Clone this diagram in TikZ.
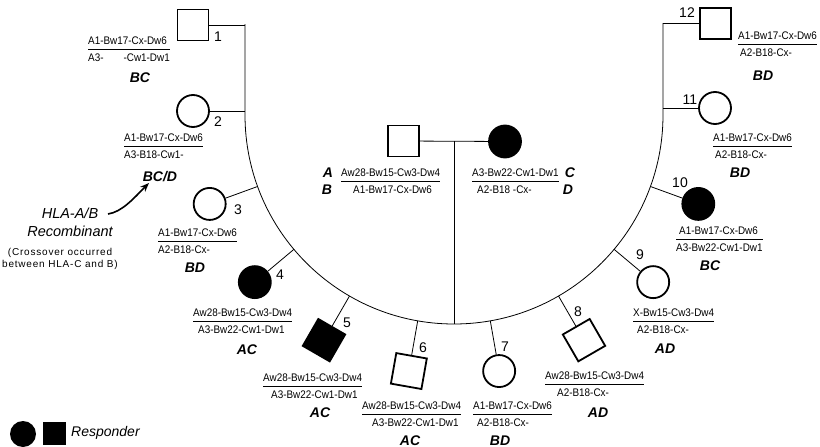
\documentclass[tikz,border=0pt]{standalone}
\usepackage{fontspec}
\setmainfont{Liberation Sans}
\newfontfamily\hapfont[FakeStretch=0.9]{Liberation Sans}
\usetikzlibrary{calc,arrows.meta}
\newcommand{\hap}[2]{{\hapfont\fontsize{11}{12}\selectfont\renewcommand{\arraystretch}{1.42}\setlength{\arrayrulewidth}{0.8pt}\begin{tabular}[t]{@{}l@{}}#1\\\hline #2\end{tabular}}}
\tikzset{
 conn/.style={line width=0.8pt},
 sym/.style={line width=1.8pt, inner sep=0pt, draw},
 male/.style={sym, rectangle, minimum size=31pt},
 female/.style={sym, circle, minimum size=32pt},
 aff/.style={fill=black},
 num/.style={font=\fontsize{14}{16}\selectfont, inner sep=0pt},
 code/.style={font=\fontsize{14}{16}\selectfont\bfseries\itshape, inner sep=0pt, anchor=base},
 hapnode/.style={inner sep=0pt, anchor=base west},
}
\begin{document}
\begin{tikzpicture}[x=1pt,y=1pt]
\useasboundingbox (0,0) rectangle (820,-447);
% sibship line
\coordinate (C) at (454,-115);
\coordinate (topL) at (245,-24);
\coordinate (topR) at (663,-23);
\draw[conn] (topL) -- (topL |- C) arc[start angle=180,end angle=360,radius=209] -- (topR);
% parents
\node[male] (fa) at (403.5,-141) {};
\node[female,aff] (mo) at (505,-141.5) {};
\draw[conn] (fa) -- (mo);
\coordinate (mid) at ($(fa)!0.5!(mo)$);
\coordinate (bot) at ($(C)+(270:209)$);
\draw[conn] (mid) -- (mid |- bot);
\node[hapnode] (fah) at (341,-176) {\hap{Aw28-Bw15-Cw3-Dw4}{\hspace*{12pt}A1-Bw17-Cx-Dw6}};
\node[hapnode] (moh) at (472,-176) {\hap{A3-Bw22-Cw1-Dw1}{\hspace*{5pt}A2-B18 -Cx-}};
\node[code] (fA) at (328,-177) {A};
\node[code] (fB) at (327,-194) {B};
\node[code] (mC) at (570,-177) {C};
\node[code] (mD) at (568,-194) {D};
% child 1
\node[male] (k1) at (193,-25) {};
\draw[conn] (k1) -- (k1 -| topL);
\node[num] (n1) at (218,-37) {1};
\node[hapnode] (h1) at (88,-44) {\hap{A1-Bw17-Cx-Dw6}{A3-\hspace{20pt}-Cw1-Dw1}};
\node[code] (c1) at (140,-82) {BC};
% child 2
\node[female] (k2) at (193,-111) {};
\draw[conn] (k2) -- (k2 -| topL);
\node[num] (n2) at (218,-122) {2};
\node[hapnode] (h2) at (124,-141) {\hap{A1-Bw17-Cx-Dw6}{A3-B18-Cw1-}};
\node[code] (c2) at (160,-181) {BC/D};
% child 3
\node[female] (k3) at ($(C)+(200:260)$) {};
\coordinate (a3) at ($(C)+(200:209)$);
\draw[conn] (a3) -- (k3);
\node[num] (n3) at (238,-210) {3};
\node[hapnode] (h3) at (158,-236) {\hap{A1-Bw17-Cx-Dw6}{A2-B18-Cx-}};
\node[code] (c3) at (195,-272) {BD};
% child 4
\node[female,aff] (k4) at ($(C)+(220:260)$) {};
\coordinate (a4) at ($(C)+(220:209)$);
\draw[conn] (a4) -- (k4);
\node[num] (n4) at (280,-275) {4};
\node[hapnode] (h4) at (193,-316) {\hap{Aw28-Bw15-Cw3-Dw4}{\hspace*{5pt}A3-Bw22-Cw1-Dw1}};
\node[code] (c4) at (247,-354) {AC};
% child 5
\node[male,aff,rotate=330] (k5) at ($(C)+(240:260)$) {};
\coordinate (a5) at ($(C)+(240:209)$);
\draw[conn] (a5) -- (k5);
\node[num] (n5) at (347,-323) {5};
\node[hapnode] (h5) at (263,-381) {\hap{Aw28-Bw15-Cw3-Dw4}{\hspace*{8pt}A3-Bw22-Cw1-Dw1}};
\node[code] (c5) at (320,-417) {AC};
% child 6
\node[male,rotate=350] (k6) at ($(C)+(260:260)$) {};
\coordinate (a6) at ($(C)+(260:209)$);
\draw[conn] (a6) -- (k6);
\node[num] (n6) at (423,-348) {6};
\node[hapnode] (h6) at (362,-409) {\hap{Aw28-Bw15-Cw3-Dw4}{\hspace*{10pt}A3-Bw22-Cw1-Dw1}};
\node[code] (c6) at (410,-445) {AC};
% child 7
\node[female] (k7) at ($(C)+(280:260)$) {};
\coordinate (a7) at ($(C)+(280:209)$);
\draw[conn] (a7) -- (k7);
\node[num] (n7) at (505,-347) {7};
\node[hapnode] (h7) at (473,-409) {\hap{A1-Bw17-Cx-Dw6}{\hspace*{4pt}A2-B18-Cx-}};
\node[code] (c7) at (500,-445) {BD};
% child 8
\node[male,rotate=30] (k8) at ($(C)+(300:260)$) {};
\coordinate (a8) at ($(C)+(300:209)$);
\draw[conn] (a8) -- (k8);
\node[num] (n8) at (578,-312) {8};
\node[hapnode] (h8) at (545,-379) {\hap{Aw28-Bw15-Cw3-Dw4}{\hspace*{12pt}A2-B18-Cx-}};
\node[code] (c8) at (598,-417) {AD};
% child 9
\node[female] (k9) at ($(C)+(320:260)$) {};
\coordinate (a9) at ($(C)+(320:209)$);
\draw[conn] (a9) -- (k9);
\node[num] (n9) at (640,-255) {9};
\node[hapnode] (h9) at (633,-316) {\hap{X-Bw15-Cw3-Dw4}{\hspace*{4pt}A2-B18-Cx-}};
\node[code] (c9) at (665,-353) {AD};
% child 10
\node[female,aff] (k10) at ($(C)+(340:260)$) {};
\coordinate (a10) at ($(C)+(340:209)$);
\draw[conn] (a10) -- (k10);
\node[num] (n10) at (680,-183) {10};
\node[hapnode] (h10) at (676,-234) {\hap{\hspace*{3pt}A1-Bw17-Cx-Dw6}{A3-Bw22-Cw1-Dw1}};
\node[code] (c10) at (710,-270) {BC};
% child 11
\node[female] (k11) at (715,-108) {};
\draw[conn] (k11) -- (k11 -| topR);
\node[num] (n11) at (690,-100) {11};
\node[hapnode] (h11) at (713,-141) {\hap{A1-Bw17-Cx-Dw6}{\hspace*{2pt}A2-B18-Cx-}};
\node[code] (c11) at (740,-177) {BD};
% child 12
\node[male] (k12) at (715.5,-23.5) {};
\draw[conn] (k12) -- (k12 -| topR);
\node[num] (n12) at (687,-13) {12};
\node[hapnode] (h12) at (738,-39) {\hap{A1-Bw17-Cx-Dw6}{\hspace*{2pt}A2-B18-Cx-}};
\node[code] (c12) at (763,-80) {BD};
% recombinant note
\node[font=\fontsize{14.5}{18}\selectfont\itshape, align=center, inner sep=0pt] (rec) at (70,-222) {HLA-A/B\\Recombinant};
\node[font=\fontsize{10}{12}\selectfont\addfontfeature{LetterSpace=8}, align=center, inner sep=0pt] (cross) at (60,-259) {(Crossover occurred\\between HLA-C and B)};
\coordinate (arS) at (108,-214);
\coordinate (arE) at (149,-183);
\draw[line width=1.6pt, -{Stealth[length=9pt,width=7pt]}] (arS) .. controls (122,-212) and (134,-198) .. (arE);
% legend
\node[circle, fill=black, inner sep=0pt, minimum size=26pt] (lc) at (23,-434) {};
\node[rectangle, fill=black, inner sep=0pt, minimum size=23pt] (ls) at (54.5,-433) {};
\node[font=\fontsize{14}{16}\selectfont\itshape, anchor=west, inner sep=0pt] (lt) at (71,-433) {Responder};
\end{tikzpicture}
\end{document}
